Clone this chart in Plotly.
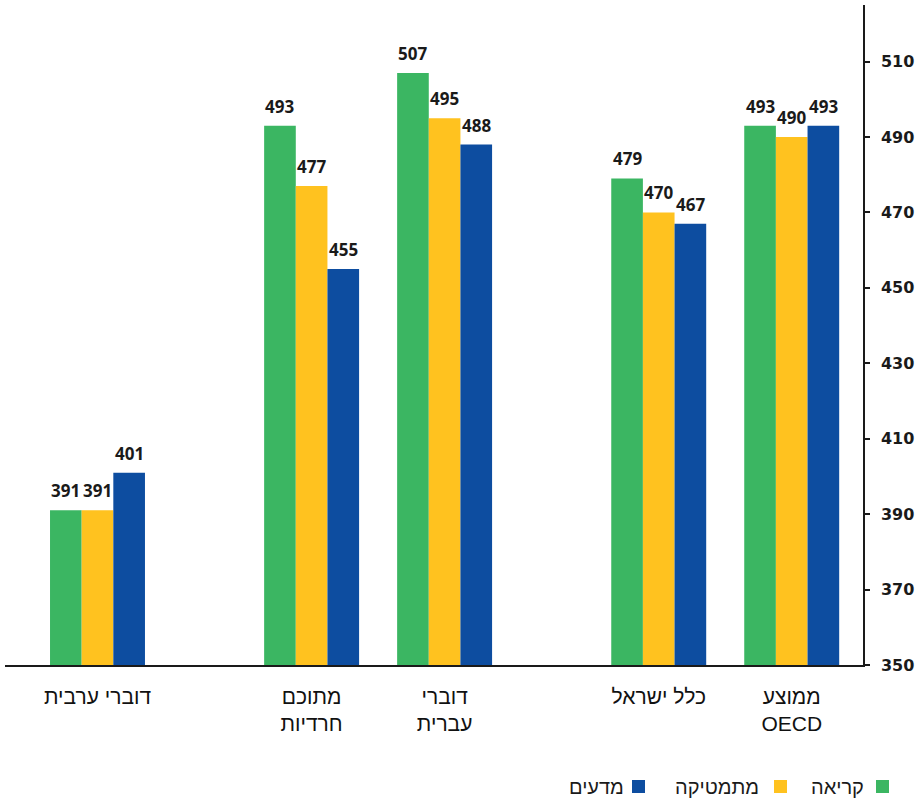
import plotly.graph_objects as go

# ---- data ----
categories = ["דוברי ערבית", "מתוכם<br>חרדיות", "דוברי<br>עברית", "כלל ישראל", "ממוצע<br>OECD"]
group_positions = [0, 1.61, 2.61, 4.22, 5.22]
series_names = ["קריאה", "מתמטיקה", "מדעים"]
reading = [391, 493, 507, 479, 493]
math_scores = [391, 477, 495, 470, 490]
science = [401, 455, 488, 467, 493]
y_ticks = [350, 370, 390, 410, 430, 450, 470, 490, 510]

colors = ["#3BB662", "#FFC21F", "#0D4DA0"]
series_values = [reading, math_scores, science]

BAR_W = 0.238
offsets = [-1.5 * BAR_W, -0.5 * BAR_W, 0.5 * BAR_W]

W, H = 921, 800
ML, MR, MT, MB = 5, 58, 5, 135
plot_w = W - ML - MR
plot_h = H - MT - MB

NUM_FONT = "DejaVu Sans"
LABEL_FONT = "Open Sans"

fig = go.Figure()
annotations = []
for name, vals, col, off in zip(series_names, series_values, colors, offsets):
    fig.add_trace(go.Bar(
        x=group_positions, y=vals, name=name,
        width=BAR_W, offset=off,
        marker=dict(color=col, line=dict(width=0)),
        showlegend=False,
    ))
    for xp, v in zip(group_positions, vals):
        annotations.append(dict(
            x=xp + off + BAR_W / 2, y=v, xref="x", yref="y",
            text=f"<b>{v}</b>", showarrow=False, yanchor="bottom",
            yshift=6, font=dict(family=LABEL_FONT, size=17, color="#1a1a1a"),
        ))

def px_x(p):
    return (p - ML) / plot_w

def px_y(p):
    return (H - MB - p) / plot_h

# manual RTL legend: square on the right of the text
legend_items = [
    (series_names[0], colors[0], 876, 866),
    (series_names[1], colors[1], 774, 761),
    (series_names[2], colors[2], 632, 626),
]
shapes = []
for name, col, sq_left, text_right in legend_items:
    shapes.append(dict(type="rect", xref="paper", yref="paper",
                       x0=px_x(sq_left), x1=px_x(sq_left + 13),
                       y0=px_y(793), y1=px_y(780),
                       fillcolor=col, line=dict(width=0)))
    annotations.append(dict(x=px_x(text_right), y=px_y(787), xref="paper", yref="paper",
                            text=name, showarrow=False, xanchor="right", yanchor="middle",
                            font=dict(family="Liberation Sans", size=20, color="#1a1a1a")))

fig.update_layout(
    width=W, height=H,
    margin=dict(l=ML, r=MR, t=MT, b=MB),
    paper_bgcolor="white", plot_bgcolor="white",
    barmode="overlay",
    annotations=annotations,
    shapes=shapes,
    xaxis=dict(
        range=[-0.6955, 5.756],
        tickmode="array", tickvals=group_positions, ticktext=categories,
        showgrid=False, zeroline=False,
        showline=True, linecolor="#1a1a1a", linewidth=1.5,
        ticks="", ticklabelstandoff=12,
        tickfont=dict(family="Liberation Sans", size=21, color="#111111"),
    ),
    yaxis=dict(
        range=[350, 525], side="right",
        tickmode="array", tickvals=y_ticks, ticktext=[f"<b>{t}</b>" for t in y_ticks],
        showgrid=False, zeroline=False,
        showline=True, linecolor="#1a1a1a", linewidth=1.5,
        ticks="outside", ticklen=5, tickcolor="#1a1a1a", tickwidth=1.5,
        ticklabelstandoff=8,
        tickfont=dict(family=NUM_FONT, size=16, color="#1a1a1a"),
    ),
)

fig.write_html("out.html")
